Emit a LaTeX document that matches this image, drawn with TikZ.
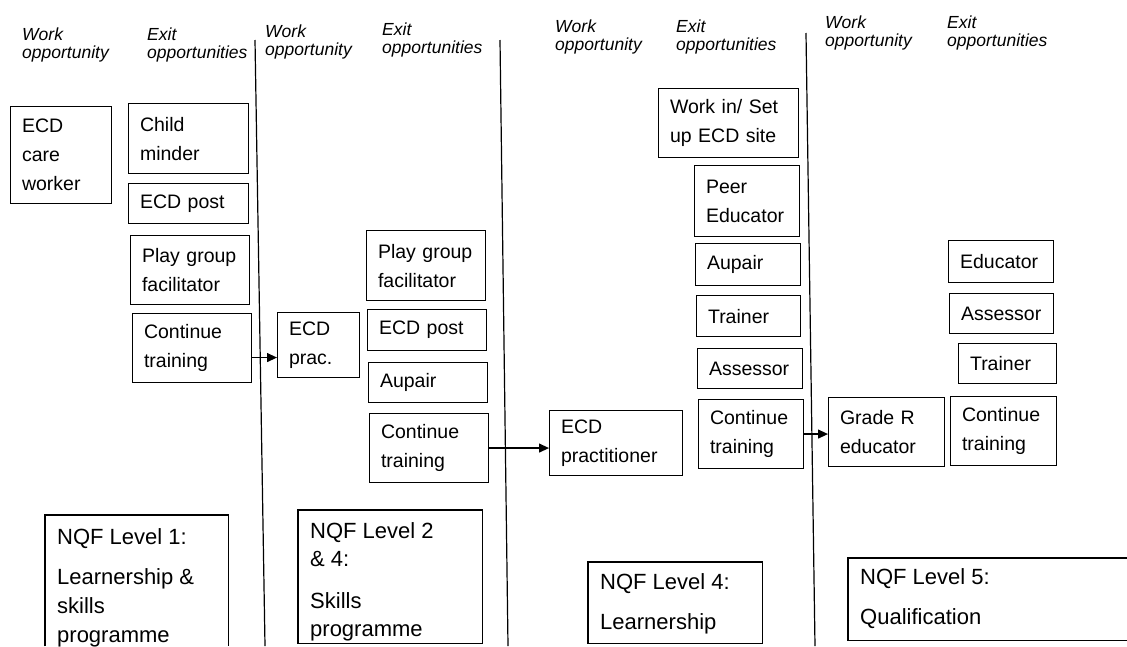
\documentclass[tikz,border=0pt]{standalone}
\usepackage{fontspec}
\setmainfont{Liberation Sans}
\usetikzlibrary{arrows.meta,calc}
\newcommand\bx[6]{%
  \pgfmathsetmacro\bxw{#4-#2}%
  \pgfmathsetmacro\bxh{#5-#3}%
  \pgfmathsetmacro\bxt{#4-#2-23}%
  \node[box, minimum width=\bxw pt, minimum height=\bxh pt, text width=\bxt pt, anchor=north west] (#1) at (#2,#3) {#6};}
\newcommand\nbx[5]{%
  \pgfmathsetmacro\bxw{#4-#2}%
  \pgfmathsetmacro\bxh{#5-#3}%
  \node[nqfarea, minimum width=\bxw pt, minimum height=\bxh pt, anchor=north west] (#1) at (#2,#3) {};}
\tikzset{
  box/.style={draw, line width=1.1pt, inner xsep=11.5pt, inner ysep=0pt, align=left,
    font=\fontsize{19.5}{29}\selectfont},
  nqfarea/.style={draw=none, inner sep=0pt},
  nqfline/.style={line width=1.1pt},
  nqftext/.style={inner sep=0pt, align=left, anchor=north west,
    font=\fontsize{22}{29}\selectfont},
  hdr/.style={inner sep=0pt, align=left, anchor=north west,
    font=\fontsize{17.5}{18.5}\selectfont\itshape},
  sepline/.style={line width=1.2pt},
  arr/.style={line width=1.2pt, -{Triangle[length=10pt,width=9pt]}},
}
\begin{document}
\begin{tikzpicture}[x=1pt,y=-1pt]
\useasboundingbox (0,0) rectangle (1127,646);

% column separators
\coordinate (s1t) at (255,40);  \coordinate (s1b) at (265,646);
\coordinate (s2t) at (500,40);  \coordinate (s2b) at (508,646);
\coordinate (s3t) at (806,33);  \coordinate (s3b) at (815,646);
\draw[sepline] (s1t) -- (s1b);
\draw[sepline] (s2t) -- (s2b);
\draw[sepline] (s3t) -- (s3b);

% headers
\node[hdr] (h1) at (22,27.5)  {Work\\opportunity};
\node[hdr] (h2) at (147,27.5) {Exit\\opportunities};
\node[hdr] (h3) at (265,24.5) {Work\\opportunity};
\node[hdr] (h4) at (382,22.5) {Exit\\opportunities};
\node[hdr] (h5) at (555,19.5) {Work\\opportunity};
\node[hdr] (h6) at (676,19.5) {Exit\\opportunities};
\node[hdr] (h7) at (825,15.5) {Work\\opportunity};
\node[hdr] (h8) at (947,15.5) {Exit\\opportunities};

% column 1
\bx{ecdcare}{10}{106}{111}{203}{ECD\\care\\worker}
\bx{child}{128}{103}{248}{173}{Child\\minder}
\bx{ecdpostA}{128}{183}{248}{223}{ECD post}
\bx{playA}{130}{235}{249}{304}{Play group\\facilitator}
\bx{ctA}{132}{313}{251}{382}{Continue\\training}

% column 2
\bx{ecdprac}{277}{312}{359}{377}{ECD\\prac.}
\bx{playB}{366}{230}{485}{300}{Play group\\facilitator}
\bx{ecdpostB}{367}{309}{486}{350}{ECD post}
\bx{aupairB}{368}{362}{487}{402}{Aupair}
\bx{ctB}{369}{413}{488}{482}{Continue\\training}

% column 3
\bx{ecdpr}{549}{410}{682}{475}{ECD\\practitioner}
\bx{workin}{658}{88}{798}{157}{Work in/ Set\\up ECD site}
\bx{peer}{694}{165}{799}{236}{Peer\\Educator}
\bx{aupairC}{695}{243}{800}{285}{Aupair}
\bx{trainerC}{696}{295}{800}{336}{Trainer}
\bx{assessorC}{697}{348}{802}{388}{Assessor}
\bx{ctC}{698}{399}{803}{468}{Continue\\training}

% column 4
\bx{grader}{828}{397}{944}{466}{Grade R\\educator}
\bx{educatorD}{948}{240}{1053}{282}{Educator}
\bx{assessorD}{949}{293}{1053}{333}{Assessor}
\bx{trainerD}{958}{343}{1056}{383}{Trainer}
\bx{ctD}{950}{396}{1056}{465}{Continue\\training}

% arrows
\draw[arr] ([yshift=-9.5pt]ctA.east) -- ([yshift=-9.5pt]ctA.east -| ecdprac.west);
\draw[arr] (ctB.east) -- (ctB.east -| ecdpr.west);
\draw[arr] (ctC.east) -- (ctC.east -| grader.west);

% NQF boxes
\nbx{nqfA}{45}{515}{228}{646}
\draw[nqfline] (nqfA.south west) -- (nqfA.north west) -- (nqfA.north east) -- (nqfA.south east);
\node[nqftext] (nqfAt) at (57,528) {NQF Level 1:\\[11pt]Learnership \&\\skills\\programme};

\nbx{nqfB}{298}{510}{482}{643}
\draw[nqfline] (nqfB.north west) rectangle (nqfB.south east);
\node[nqftext, font=\fontsize{22}{28}\selectfont] (nqfBt) at (310,522) {NQF Level 2\\\& 4:\\[14pt]Skills\\programme};

\nbx{nqfC}{588}{562}{762}{643}
\draw[nqfline] (nqfC.north west) rectangle (nqfC.south east);
\node[nqftext] (nqfCt) at (600,573) {NQF Level 4:\\[11pt]Learnership};

\nbx{nqfD}{848}{558}{1127}{640}
\draw[nqfline] (nqfD.north east) -- (nqfD.north west) -- (nqfD.south west) -- (nqfD.south east);
\node[nqftext] (nqfDt) at (860,568) {NQF Level 5:\\[11pt]Qualification};
\end{tikzpicture}
\end{document}
